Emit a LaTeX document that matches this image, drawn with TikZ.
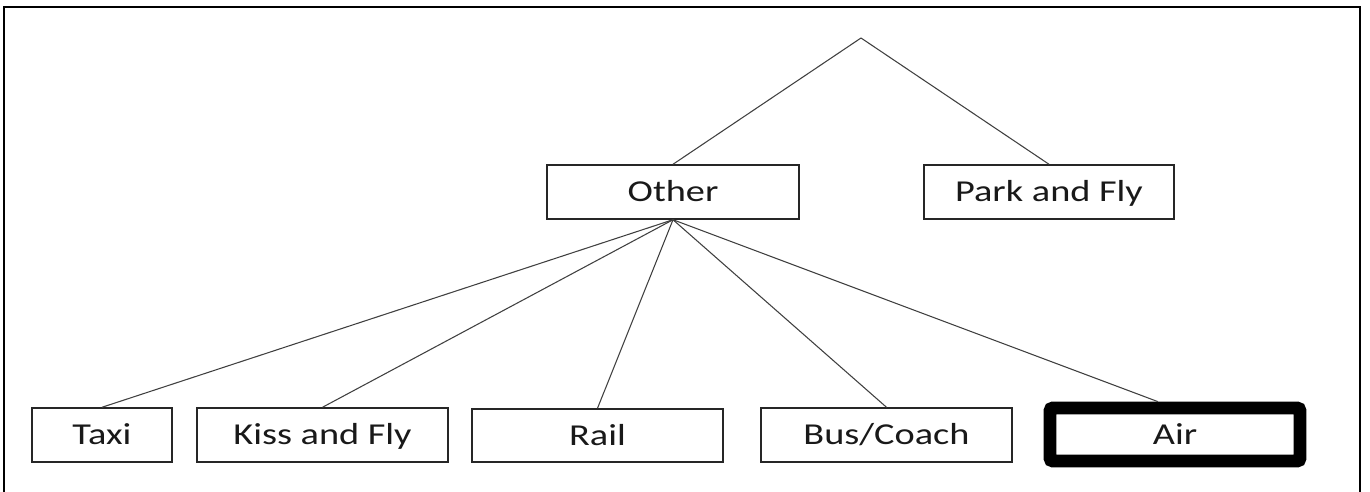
\documentclass[tikz,border=0pt]{standalone}
\usepackage{fontspec}
\setmainfont{Carlito}
\begin{document}
\begin{tikzpicture}[x=0.75pt,y=-0.75pt]
\useasboundingbox (0,0) rectangle (1370,492);
\tikzset{
  lbl/.style={font=\fontsize{22.8pt}{26pt}\selectfont, text=black!90},
  box/.style n args={2}{draw=black!85, line width=1.1pt, fill=white, inner sep=0pt,
     text height=14.6pt, text depth=0pt,
     minimum width=#1*0.75pt, minimum height=#2*0.75pt, lbl},
  conn/.style={draw=black!75, line width=0.8pt},
}
\newcommand{\stxt}[1]{\scalebox{1.26}[1]{#1}}
\draw[line width=1.6pt] (4,500) -- (4,7) -- (1360,7) -- (1360,500);
\coordinate (apex) at (861,38);
\node[box={252}{54}] (other) at (673,192) {\stxt{Other}};
\node[box={250}{54}] (park) at (1049,192) {\stxt{Park and Fly}};
\node[box={140}{54}] (taxi) at (102,435) {\stxt{Taxi}};
\node[box={251}{54}] (kiss) at (322.5,435) {\stxt{Kiss and Fly}};
\node[box={251}{53}] (rail) at (597.5,435.5) {\stxt{Rail}};
\node[box={251}{54}] (bus) at (886.5,435) {\stxt{Bus/Coach}};
\node[box={250}{53}, line width=9.5pt, draw=black, rounded corners=2pt] (air) at (1175,434.5) {\stxt{Air}};
\draw[conn] (apex) -- (other.north);
\draw[conn] (apex) -- (park.north);
\draw[conn] (other.south) -- (taxi.north);
\draw[conn] (other.south) -- (kiss.north);
\draw[conn] (other.south) -- (rail.north);
\draw[conn] (other.south) -- (bus.north);
\draw[conn] (other.south) -- ([xshift=-12.75pt]air.north);
\end{tikzpicture}
\end{document}
